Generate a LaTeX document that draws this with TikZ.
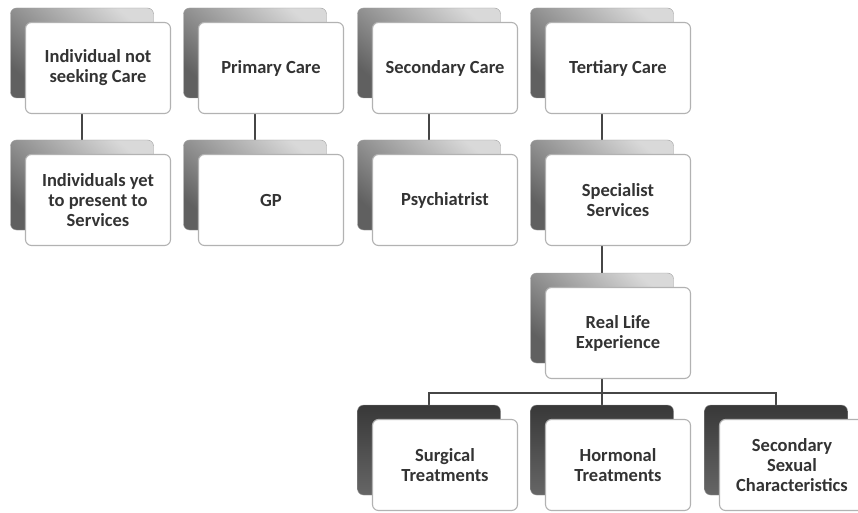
\documentclass[tikz,border=0pt]{standalone}
\usepackage{fontspec}
\setmainfont{Carlito}
\usetikzlibrary{positioning,backgrounds}

\tikzset{
	back/.style={rounded corners=6pt,minimum width=143pt,minimum height=90pt,
		draw=gray!75,top color=gray!30,bottom color=gray!75!black,shading angle=-40},
	backdark/.style={back,top color=black!78,bottom color=black!60},
	front/.style={rounded corners=6pt,minimum width=145pt,minimum height=91pt,
		draw=gray!60,line width=1.1pt,fill=white,align=center,
		font=\bfseries\fontsize{18.5}{20}\selectfont,text=black!80},
	link/.style={draw=gray!55!black,line width=2pt}
}

\begin{document}
\begin{tikzpicture}[x=1pt,y=1pt]
	\useasboundingbox (0,0) rectangle (858,-513);
	
	% top row
	\node (indivB)[back] at (82,-53) {};
	\node (indiv)[front] at (98,-68) {Individual not\\seeking Care};
	\node (primB)[back] at (255,-53) {};
	\node (prim)[front] at (271,-68) {Primary Care};
	\node (secB)[back] at (429,-53) {};
	\node (sec)[front] at (445,-68) {Secondary Care};
	\node (tertB)[back] at (602,-53) {};
	\node (tert)[front] at (618,-68) {Tertiary Care};
	
	% second row
	\node (yetB)[back] at (82,-185) {};
	\node (yet)[front] at (98,-200) {Individuals yet\\to present to\\Services};
	\node (gpB)[back] at (255,-185) {};
	\node (gp)[front] at (271,-200) {GP};
	\node (psyB)[back] at (429,-185) {};
	\node (psy)[front] at (445,-200) {Psychiatrist};
	\node (specB)[back] at (602,-185) {};
	\node (spec)[front] at (618,-200) {Specialist\\Services};
	
	% real life experience
	\node (rleB)[back] at (602,-318) {};
	\node (rle)[front] at (618,-333) {Real Life\\Experience};
	
	% bottom row
	\node (surgB)[backdark] at (429,-450) {};
	\node (surg)[front] at (445,-465) {Surgical\\Treatments};
	\node (hormB)[backdark] at (602,-450) {};
	\node (horm)[front] at (618,-465) {Hormonal\\Treatments};
	\node (sexB)[backdark] at (776,-450) {};
	\node (sex)[front] at (792,-465) {Secondary\\Sexual\\Characteristics};
	
	\begin{pgfonlayer}{background}
		\draw[link] (indivB)--(yetB);
		\draw[link] (primB)--(gpB);
		\draw[link] (secB)--(psyB);
		\draw[link] (tertB)--(specB);
		\draw[link] (specB)--(rleB);
		\draw[link] (rleB)--(hormB);
		\draw[link] (surgB.north) |- ([yshift=12pt]hormB.north) -| (sexB.north);
	\end{pgfonlayer}
\end{tikzpicture}
\end{document}
